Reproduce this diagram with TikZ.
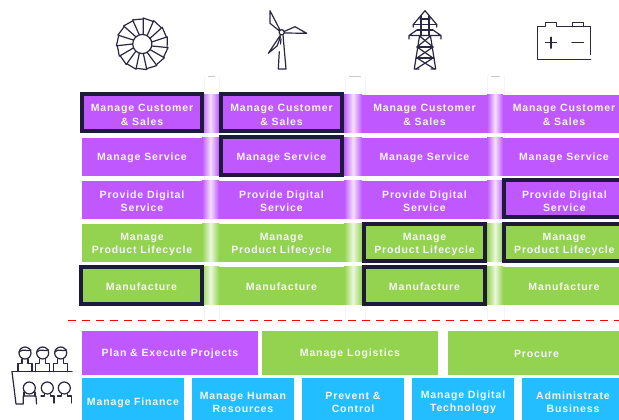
\documentclass[tikz,border=0pt]{standalone}
\usepackage{fontspec}
\setmainfont{Liberation Sans}[LetterSpace=8]
\definecolor{pur}{HTML}{BF58FF}
\definecolor{grn}{HTML}{94D350}
\definecolor{blu}{HTML}{22BEFF}
\definecolor{nav}{HTML}{1D1A3A}
\definecolor{icn}{HTML}{2A2740}
% name, x0, y0, x1, y1, box options, text, y of the text centre
\newcommand\cellbox[8]{\node[cellnode,#6,minimum width={(#4-#2)*0.75pt},minimum height={(#5-#3)*0.75pt}] (#1) at ({(#2+#4)/2},{(#3+#5)/2}) {};
\node[celltext] (#1t) at ({(#2+#4)/2},#8) {#7};}
\tikzset{
  cellnode/.style={rectangle,inner sep=0pt},
  celltext/.style={inner sep=0pt,align=center,text=white!96!black,font=\fontsize{7.9}{10}\selectfont\bfseries},
  hl/.style={draw=nav,line width=2.7pt},
  icon/.style={draw=icn,line width=0.9pt,line join=round,line cap=round},
  faint/.style={draw=black!4,line width=0.4pt}
}
\begin{document}
\begin{tikzpicture}[x=0.75pt,y=-0.75pt]
\clip (0,0) rectangle (619,420);
% faint channels behind the bands
\foreach \a/\b in {204/219,345/365,487/504}{
  \draw[faint] (\a,76) -- (\a,320) (\b,76) -- (\b,320);
  \draw[black!22,line width=0.5pt] ({\a+4},76.3) -- ({\b-4},76.3);
}
% gradient strips
\foreach \yy/\zz/\c in {95/133/pur,138/176/pur,181/219/pur,224/262/grn,267/305/grn}{
  \foreach \a/\b in {202/219,344/362,487/503}{
    \shade[left color=\c,right color=\c,middle color=\c!18] (\a,\yy) rectangle (\b,\zz);
  }
}
% plain cells
\cellbox{r1c3}{362}{95}{487}{133}{fill=pur}{Manage Customer\\\& Sales}{115}
\cellbox{r1c4}{503}{95}{625}{133}{fill=pur}{Manage Customer\\\& Sales}{115}
\cellbox{r2c1}{82}{138}{202}{176}{fill=pur}{Manage Service}{158.3}
\cellbox{r2c3}{362}{138}{487}{176}{fill=pur}{Manage Service}{158.3}
\cellbox{r2c4}{503}{138}{625}{176}{fill=pur}{Manage Service}{158.3}
\cellbox{r3c1}{82}{181}{202}{219}{fill=pur}{Provide Digital\\Service}{201}
\cellbox{r3c2}{219}{181}{344}{219}{fill=pur}{Provide Digital\\Service}{201}
\cellbox{r3c3}{362}{181}{487}{219}{fill=pur}{Provide Digital\\Service}{201}
\cellbox{r4c1}{82}{224}{202}{262}{fill=grn}{Manage\\Product Lifecycle}{244.3}
\cellbox{r4c2}{219}{224}{344}{262}{fill=grn}{Manage\\Product Lifecycle}{244.3}
\cellbox{r5c2}{219}{267}{344}{305}{fill=grn}{Manufacture}{286.3}
\cellbox{r5c4}{503}{267}{625}{305}{fill=grn}{Manufacture}{286.3}
% highlighted cells
\cellbox{r1c1}{81.75}{93.75}{202.25}{131.25}{fill=pur,hl}{Manage Customer\\\& Sales}{115}
\cellbox{r1c2}{220.75}{93.75}{342.25}{131.25}{fill=pur,hl}{Manage Customer\\\& Sales}{115}
\cellbox{r2c2}{220.75}{136.75}{342.25}{175.25}{fill=pur,hl}{Manage Service}{158.3}
\cellbox{r3c4}{503.75}{179.75}{625}{217.25}{fill=pur,hl}{Provide Digital\\Service}{201}
\cellbox{r4c3}{363.75}{223.75}{485.25}{261.25}{fill=grn,hl}{Manage\\Product Lifecycle}{244.3}
\cellbox{r4c4}{503.75}{223.75}{625}{261.25}{fill=grn,hl}{Manage\\Product Lifecycle}{244.3}
\cellbox{r5c1}{80.75}{266.75}{202.25}{304.25}{fill=grn,hl}{Manufacture}{286.3}
\cellbox{r5c3}{363.75}{266.75}{485.25}{304.25}{fill=grn,hl}{Manufacture}{286.3}
% dashed divider
\coordinate (dashL) at (68,320.5);
\coordinate (dashR) at (619,320.5);
\draw[red,line width=1.3pt,dash pattern=on 6.2pt off 4.3pt] (dashL) -- (dashR);
% support rows
\cellbox{plan}{82}{331}{258}{375}{fill=pur}{Plan \& Execute Projects}{353.8}
\cellbox{logi}{262}{331}{438}{375}{fill=grn}{Manage Logistics}{353.8}
\cellbox{proc}{448}{331}{625}{375}{fill=grn}{Procure}{353.8}
\cellbox{fin}{82}{378}{184}{426}{fill=blu}{Manage Finance}{403}
\cellbox{hr}{192}{378}{294}{426}{fill=blu}{Manage Human\\Resources}{402.5}
\cellbox{prev}{302}{378}{404}{426}{fill=blu}{Prevent \&\\Control}{402.5}
\cellbox{dig}{412}{378}{514}{426}{fill=blu}{Manage Digital\\Technology}{402.5}
\cellbox{adm}{522}{378}{624}{426}{fill=blu}{Administrate\\Business}{402.5}
% icon: solar wheel
\begin{scope}[shift={(142.3,44)}]
  \draw[icon] (0,0) circle (9.6);
  \foreach \i in {0,...,14}{
    \pgfmathsetmacro\aa{-12-\i*24}
    \pgfmathsetmacro\bb{\aa+4}
    \pgfmathsetmacro\cc{\aa-19}
    \draw[icon] ({9.6*cos(\aa)},{-9.6*sin(\aa)}) -- ({26*cos(\bb)},{-26*sin(\bb)}) -- ({25*cos(\cc)},{-25*sin(\cc)});
  }
\end{scope}
% icon: wind turbine
\begin{scope}
  \draw[icon] (281.7,32.3) circle (2.6);
  \draw[icon] (280,30) -- (270,10.7) -- (270,23.3) -- (279.5,31);
  \draw[icon] (284.2,31.5) -- (295,26.7) -- (306.7,33.3) -- (284.2,33);
  \draw[icon] (280.5,35) -- (268.3,53.3) -- (277,46) -- (280.5,37);
  \draw[icon] (283,35) -- (286,69) -- (278.3,69) -- (279.3,51.7);
  \draw[icon] (281,39) -- (280.5,44);
\end{scope}
% icon: pylon
\begin{scope}
  \draw[icon] (425,10.7) -- (413.3,24.5) -- (413.3,27);
  \draw[icon] (425,10.7) -- (436.7,24.5) -- (436.7,27);
  \draw[icon] (413.3,24.5) -- (436.7,24.5);
  \draw[icon] (421,16) -- (421,36) (429,16) -- (429,36) (420,19) -- (430,19) (417,30) -- (433,30);
  \draw[icon] (409,39) -- (409,35.5) -- (417,30) (441,39) -- (441,35.5) -- (433,30) (409,35.5) -- (441,35.5);
  \draw[icon] (419.5,36) -- (414.3,69) -- (419,69);
  \draw[icon] (430.5,36) -- (435.7,69) -- (431,69);
  \draw[icon] (419.5,36) -- (433,47) -- (417,58) -- (434.5,69);
  \draw[icon] (430.5,36) -- (417,47) -- (433,58) -- (416,69);
  \draw[icon] (417,47) -- (433,47) (416,58) -- (434,58);
\end{scope}
% icon: battery
\begin{scope}
  \draw[icon] (590.7,54.5) -- (590.7,26.7) -- (556.7,26.7) -- (556.7,22.7) -- (545.7,22.7) -- (545.7,26.7) -- (537.7,26.7) -- (537.7,59.3) -- (590.7,59.3);
  \draw[icon] (572.3,26.7) -- (572.3,22.7) -- (583.3,22.7) -- (583.3,26.7);
  \draw[icon] (545.5,42.7) -- (556.5,42.7) (551,37.2) -- (551,48.2);
  \draw[icon] (572,42.7) -- (583.5,42.7);
\end{scope}
% icon: people
\begin{scope}
  \foreach \x in {25,42.7,60.7}{
    \draw[icon] (\x,353) circle (6);
    \draw[icon] ({\x-6},352) .. controls ({\x-2},348) and ({\x+2},352) .. ({\x+6},350);
    \draw[icon] ({\x-7},371.7) -- ({\x-7},363.3) -- ({\x-3},363.3) -- ({\x-3},359) ({\x+3},359) -- ({\x+3},363.3) -- ({\x+7},363.3) -- ({\x+7},371.7);
  }
  \draw[icon] (12,371.7) -- (72,371.7);
  \draw[icon] (12,371.7) -- (16,404) -- (23.3,404) -- (23.3,396) -- (36,396) -- (36.5,404);
  \draw[icon] (24,392) -- (24,396) (35,392) -- (35,396);
  \draw[icon] (29.3,388) circle (6);
  \draw[icon] (47.3,388) circle (6);
  \draw[icon] (64.3,388) circle (6);
  \draw[icon] (44.3,394) -- (44.3,396) -- (41,396) (50.3,394) -- (50.3,396) -- (54,396) -- (54,403);
  \draw[icon] (61.3,394) -- (61.3,396) -- (57.5,396) (67.3,394) -- (67.3,396) -- (71.5,396) -- (71.5,403);
\end{scope}
\end{tikzpicture}
\end{document}
